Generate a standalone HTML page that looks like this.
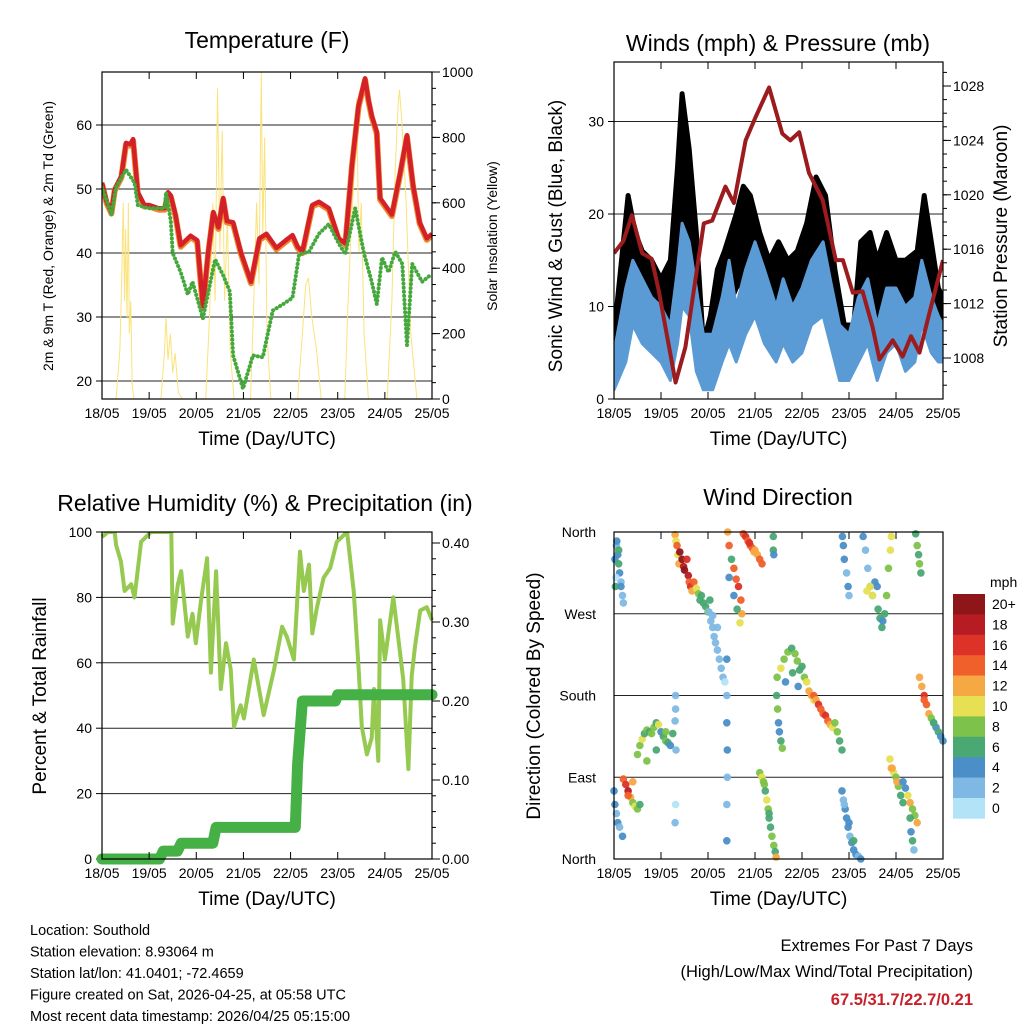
<!DOCTYPE html>
<html><head><meta charset="utf-8"><style>
html,body{margin:0;padding:0;background:#fff}
svg{display:block;font-family:"Liberation Sans",sans-serif}
</style></head><body>
<svg id="c" width="1024" height="1024" viewBox="0 0 1024 1024"></svg>
<script>
// ---------- DATA ----------
const dayTicks=["18/05","19/05","20/05","21/05","22/05","23/05","24/05","25/05"];
// Temperature (F)
const tDay=[0,0.1,0.2,0.27,0.41,0.51,0.6,0.66,0.76,0.9,1.0,1.2,1.33,1.4,1.46,1.56,1.67,1.88,2.02,2.14,2.25,2.36,2.47,2.57,2.65,2.78,2.95,3.16,3.34,3.49,3.7,3.9,4.04,4.15,4.25,4.46,4.6,4.81,5.02,5.16,5.3,5.44,5.58,5.65,5.72,5.83,5.9,6.15,6.33,6.47,6.6,6.74,6.89,7.0];
const tRed=[51,48,46.4,50,52,57.2,57,57.8,49.5,47.5,47.5,47,47,49.5,49,46,41.2,42.7,42,31.7,40,46.4,44,48.6,45,44.8,40,35.5,42.3,43,40.8,42,42.8,41,40.2,47.5,48,47,42.3,41.5,53.7,63,67.3,64,61.5,58.9,48.6,46,52.7,58.4,50.6,44.8,42.3,43];
const tdDay=[0,0.2,0.3,0.51,0.69,0.76,0.97,1.33,1.36,1.46,1.5,1.67,1.82,1.92,2.14,2.4,2.57,2.71,2.78,2.99,3.2,3.41,3.62,3.84,4.04,4.18,4.39,4.6,4.81,5.02,5.16,5.37,5.55,5.72,5.83,5.94,6.08,6.22,6.37,6.47,6.58,6.79,6.96];
const tdVal=[50.3,46,50.3,53,51,47.5,47,47,49.5,45,40,37,33.5,35.5,29.8,39,36.5,34,24,18.8,24,23.7,31,32,33,39.8,40.2,43,44.5,41.5,39.8,47,40.2,35.5,32,39.3,37,40.2,38.3,25.6,38.3,35.5,36.5];
// Solar insolation (W/m2)
const sDay=[0.3,0.38,0.42,0.45,0.48,0.5,0.53,0.56,0.58,0.61,0.64,0.68,0.75, 1.25,1.32,1.36,1.4,1.45,1.5,1.55,1.62,1.7, 2.2,2.28,2.35,2.4,2.45,2.5,2.55,2.6,2.66,2.72,2.8, 3.15,3.22,3.28,3.33,3.38,3.41,3.45,3.5,3.58, 4.15,4.25,4.32,4.38,4.45,4.55,4.65, 5.15,5.22,5.28,5.35,5.4,5.45,5.5,5.56,5.65, 6.05,6.15,6.22,6.28,6.31,6.36,6.45,6.55,6.68];
const sVal=[0,150,380,600,300,520,250,600,200,300,40,0,0, 0,130,250,120,200,80,140,20,0, 0,250,600,300,950,450,820,300,550,150,0, 0,300,600,350,1000,500,800,200,0, 0,200,350,370,250,150,0, 0,300,500,700,920,450,600,200,0, 0,300,700,900,945,850,600,200,0];
// Winds (mph) band envelopes
const wDay=[0,0.25,0.4,0.6,0.8,1.0,1.2,1.35,1.45,1.6,1.75,1.9,2.1,2.3,2.45,2.6,2.8,3.0,3.2,3.45,3.6,3.8,4.0,4.2,4.45,4.6,4.8,5.0,5.2,5.4,5.6,5.8,6.0,6.2,6.4,6.55,6.75,6.9,7.0];
const windHi=[5,12,15,13,11,10,8,14,19,17,12,7,7,11,15,10,14,17,14,10,13,10,12,15,17,13,8,7,11,13,8,12,12,10,11,15,11,9,8];
const windLo=[1,4,8,6,5,4,2,6,10,9,3,1,1,4,6,4,7,9,6,4,6,4,5,8,9,6,2,2,4,6,2,5,6,3,4,8,5,4,4];
const gDay=[0,0.2,0.3,0.45,0.6,0.8,1.0,1.2,1.35,1.45,1.6,1.75,1.9,2.05,2.2,2.35,2.6,2.75,2.9,3.1,3.3,3.5,3.7,3.9,4.1,4.3,4.5,4.7,4.9,5.1,5.25,5.45,5.6,5.8,6.0,6.2,6.45,6.6,6.75,6.9,7.0];
const gustHi=[7,17,22,18,16,15,13,15,25,33,27,18,6,9,14,16,20,23,22,18,15,17,15,16,19,24,22,14,8,8,17,18,15,18,15,15,16,22,17,12,11];
const gustLo=[2,8,13,12,9,9,8,7,15,20,12,8,2,3,6,9,12,13,13,10,9,10,9,10,11,14,13,8,4,4,9,10,8,10,8,8,9,13,9,7,6];
// Pressure (mb)
const pDay=[0,0.2,0.38,0.6,0.8,0.95,1.31,1.52,1.91,2.09,2.37,2.55,2.8,3.01,3.3,3.58,3.75,3.94,4.15,4.44,4.72,4.87,5.08,5.29,5.5,5.65,5.93,6.14,6.32,6.5,6.71,7.0];
const pVal=[1015.7,1016.6,1018.5,1015.7,1015.3,1013,1006.2,1008.8,1017.9,1018.1,1020.6,1019.4,1024,1025.7,1027.9,1024.5,1024,1024.6,1021.6,1019.6,1015.2,1015.2,1012.8,1012.9,1010.3,1007.9,1009.3,1008.1,1009.6,1008.4,1011.3,1015.2];
// Relative humidity (%)
const rhDay=[0,0.13,0.27,0.3,0.4,0.48,0.62,0.69,0.83,1.04,1.47,1.5,1.61,1.68,1.82,1.92,1.99,2.1,2.23,2.31,2.42,2.52,2.63,2.73,2.8,2.94,3.01,3.22,3.43,3.65,3.82,3.92,4.07,4.2,4.28,4.39,4.46,4.56,4.7,4.84,4.98,5.2,5.34,5.44,5.51,5.62,5.72,5.77,5.86,5.9,6.0,6.18,6.28,6.39,6.5,6.57,6.64,6.75,6.89,7.0];
const rhVal=[98.5,100,100,96,91,82,84,80,97,100,100,72,84,88,68,75,66,79,92,57,88,52,66,58,40.5,47,43,61,44,58,71,68,61,94,82,90,69,77,86,89,97,100,82,59,40.5,32,37,52,30,73,61,80,68,55,27.5,56,65,76,77,73];
// Precipitation (in)
const prDay=[0,1.22,1.3,1.6,1.68,2.35,2.42,4.1,4.15,4.25,4.95,5.0,7.0];
const prVal=[0,0,0.01,0.01,0.02,0.02,0.04,0.04,0.12,0.2,0.2,0.208,0.208];
// Wind direction (deg) & speed (mph)
const dirDay=[0.02,0.03,0.05,0.08,0.1,0.12,0.15,0.18,0.2,0.06,0.04,0.1,0.15,
1.3,1.32,1.34,1.36,1.38,1.4,1.45,1.48,1.5,1.55,1.58,1.6,1.63,1.66,1.7,1.75,1.8,1.83,1.86,1.9,1.95,2.0,2.04,
2.02,2.06,2.1,2.13,2.16,2.2,2.24,2.28,2.32,2.36,2.1,2.2,
2.42,2.45,2.5,2.55,2.6,2.65,2.7,2.72,2.45,2.55,2.62,2.68,
2.75,2.8,2.85,2.9,2.95,3.0,3.05,3.1,3.15,2.88,2.98,3.39,3.39,3.4,
4.86,4.88,4.9,4.95,4.98,5.0,5.3,5.35,5.4,5.45,5.5,5.55,5.6,5.38,5.45,5.5,5.62,5.66,5.7,5.72,5.76,5.8,5.84,5.88,5.9,
6.42,6.45,6.48,6.5,6.53,
3.47,3.55,3.62,3.7,3.78,3.85,3.9,3.95,4.0,4.05,4.1,4.15,4.2,4.25,3.65,3.8,3.92,
4.25,4.3,4.35,4.4,4.45,4.5,4.55,4.6,4.65,4.7,4.75,4.8,4.85,
3.46,3.48,3.5,3.52,3.55,3.58,
0.5,0.55,0.6,0.65,0.7,0.75,0.8,0.85,0.9,0.95,1.0,1.05,1.1,1.15,1.2,1.25,1.3,0.7,0.9,1.1,
0.2,0.25,0.3,0.35,0.4,0.45,0.5,0.55,0.3,0.4,
0.0,0.02,0.05,0.08,0.12,0.18,
3.1,3.15,3.2,3.22,3.25,3.28,3.3,3.33,3.36,3.4,3.43,3.45,3.18,3.3,
4.85,4.88,4.92,4.95,4.98,5.02,5.06,5.1,5.15,5.2,5.25,4.9,5.0,5.1,
5.87,5.9,5.95,6.0,6.05,6.1,6.15,5.92,6.02,
6.15,6.2,6.25,6.3,6.35,6.4,6.45,6.3,6.32,6.35,6.38,
6.5,6.55,6.6,6.65,6.7,6.75,6.8,6.85,6.9,6.95,7.0,6.6,6.8,
2.4,2.4,2.4,2.41,2.41,2.4,2.4,
1.31,1.31,1.32,1.31,1.3];
const dirDeg=[330,300,345,335,325,315,305,290,282,350,310,340,300,
357,350,345,335,325,338,330,322,318,330,312,305,300,295,305,298,292,285,290,282,278,272,285,
272,262,255,245,238,230,220,210,200,195,268,255,
360,345,330,320,308,300,285,270,310,290,275,260,
358,355,350,345,342,340,335,330,325,348,338,355,340,335,
355,345,330,315,300,290,355,340,320,300,290,305,300,295,300,290,275,265,255,262,270,290,320,340,355,
358,345,335,325,315,
200,210,220,228,232,226,218,208,212,200,195,185,180,175,195,205,190,
180,175,170,165,160,158,152,148,145,150,140,130,120,
180,165,150,140,130,122,
115,125,132,138,142,140,138,145,150,148,140,135,130,128,125,138,152,108,120,140,
88,82,75,68,62,58,55,60,70,85,
75,60,50,40,35,25,
95,90,82,75,65,55,45,35,25,15,8,2,85,50,
75,65,55,45,35,25,18,10,5,3,0,60,40,20,
110,100,95,90,80,70,62,100,85,
85,78,70,62,55,48,40,45,30,20,10,
200,190,180,170,160,155,150,145,140,135,130,175,150,
220,180,150,120,90,60,20,
180,165,120,60,40];
const dirSpd=[4,6,3,4,6,4,3,2,2,5,1,6,4,
12,10,14,11,13,20,20,18,20,16,18,14,16,12,14,10,8,7,6,6,7,8,6,
3,2,2,3,2,2,3,2,2,1,2,3,
12,14,6,15,14,16,15,13,5,4,7,10,
14,16,15,14,15,13,12,15,14,16,13,7,6,5,
4,5,4,3,4,2,4,3,2,4,3,5,4,10,10,11,6,7,6,5,7,8,9,10,11,
7,8,6,8,7,
8,10,9,8,6,9,8,7,6,8,10,12,12,10,4,6,5,
14,13,16,15,14,16,14,12,11,9,8,7,6,
6,8,5,4,6,8,
8,9,10,7,8,6,9,8,7,10,5,6,8,6,4,7,2,9,7,8,
14,16,18,12,8,10,8,7,15,13,
4,4,3,5,2,4,
8,10,9,7,10,8,6,7,9,8,7,12,9,6,
4,3,4,5,4,3,4,5,4,3,4,2,5,6,
10,12,11,9,8,6,7,12,13,
4,5,10,12,9,8,12,6,4,7,3,
12,13,16,14,12,8,6,5,7,4,5,15,7,
4,3,5,4,3,2,4,
2,2,3,1,2];
const spdLabels=["20+","18","16","14","12","10","8","6","4","2","0"];
const spdColors=["#8e1518","#b71c23","#dc3228","#f0602b","#f6a843","#e6e052","#7dc24a","#4aa872","#4a8fc7","#7fb9e3","#b3e3f7"];
// ---------- DRAW ----------
const NS="http://www.w3.org/2000/svg";
const svg=document.getElementById('c');
function mk(tag,attrs,parent){const e=document.createElementNS(NS,tag);for(const k in attrs)e.setAttribute(k,attrs[k]);(parent||svg).appendChild(e);return e;}
function txt(s,x,y,size,anchor,extra,parent){const e=mk('text',Object.assign({x:x,y:y,'font-size':size,'text-anchor':anchor||'middle',fill:'#000'},extra||{}),parent);e.textContent=s;return e;}
function lineScale(d0,d1,r0,r1){return v=>r0+(v-d0)*(r1-r0)/(d1-d0);}
function pathOf(xs,ys,fx,fy){return xs.map((d,i)=>(i?'L':'M')+fx(d).toFixed(1)+','+fy(ys[i]).toFixed(1)).join('');}

function frame(g,L,T,R,B,fx){
  mk('rect',{x:L,y:T,width:R-L,height:B-T,fill:'none',stroke:'#000','stroke-width':1.2},g);
  dayTicks.forEach((lab,i)=>{const x=fx(i);
    mk('line',{x1:x,x2:x,y1:B,y2:B-7,stroke:'#000'},g);
    mk('line',{x1:x,x2:x,y1:T,y2:T+7,stroke:'#000'},g);
    const t=txt(lab,x,B+19,14,'middle',{},g);
    
    
  });
  const xt=txt('Time (Day/UTC)',(L+R)/2,B+46,19,'middle',{},g);
  
  
}
function leftAxis(g,ticks,fy,L,R,grid){
  ticks.forEach(t=>{const y=fy(t.v);
    if(grid) mk('line',{x1:L,x2:R,y1:y,y2:y,stroke:'#222','stroke-width':1},g);
    mk('line',{x1:L-6,x2:L,y1:y,y2:y,stroke:'#000'},g);
    const e=txt(t.l,L-10,y+5,14,'end',{},g);
    
    
  });
}
function rightAxis(g,ticks,fy,R,minor){
  minor.forEach(v=>{const y=fy(v);mk('line',{x1:R,x2:R+4,y1:y,y2:y,stroke:'#000'},g);});
  ticks.forEach(t=>{const y=fy(t.v);
    mk('line',{x1:R,x2:R+8,y1:y,y2:y,stroke:'#000'},g);
    const e=txt(t.l,R+10,y+5,14,'start',{},g);
    
    
  });
}
function vlabel(g,s,x,y,size,rot,name){const e=txt(s,x,y,size,'middle',{transform:`rotate(${rot} ${x} ${y})`},g);
  
  }

// Panel 1: Temperature
(function(){
  const g=mk('g',{});
  
  
  const L=102,R=432,T=72,B=399;
  const fx=lineScale(0,7,L,R), fy=lineScale(20,60,381,125), fs=lineScale(0,1000,399,72);
  const ti=txt('Temperature (F)',267,48,23,'middle',{},g);
  
  
  const clip=mk('clipPath',{id:'cp1'},g);mk('rect',{x:L,y:T,width:R-L,height:B-T},clip);
  leftAxis(g,[20,30,40,50,60].map(v=>({v,l:String(v)})),fy,L,R,true);
  const minor=[];for(let v=0;v<=1000;v+=50)minor.push(v);
  rightAxis(g,[0,200,400,600,800,1000].map(v=>({v,l:String(v)})),fs,R,minor);
  const d=mk('g',{'clip-path':'url(#cp1)'},g);
  const sp=mk('path',{d:pathOf(sDay,sVal,fx,fs),fill:'none',stroke:'#fbe27a','stroke-width':1},d);
  
  
  const o=mk('path',{d:pathOf(tDay,tRed,fx,v=>fy(v)+1.5),fill:'none',stroke:'#f08a2a','stroke-width':6,'stroke-linejoin':'round'},d);
  
  
  const r=mk('path',{d:pathOf(tDay,tRed,fx,fy),fill:'none',stroke:'#d42028','stroke-width':4.5,'stroke-linejoin':'round'},d);
  
  
  const gp=mk('path',{d:pathOf(tdDay,tdVal,fx,fy),fill:'none',stroke:'#45a83c','stroke-width':4,'stroke-dasharray':'0.1 4','stroke-linecap':'round','stroke-linejoin':'round'},d);
  
  
  frame(g,L,T,R,B,fx);
  vlabel(g,'2m & 9m T (Red, Orange) & 2m Td (Green)',53,236,14,-90,'y-axis-title');
  vlabel(g,'Solar Insolation (Yellow)',497,236,14,-90,'y2-axis-title');
})();

// Panel 2: Winds & Pressure
(function(){
  const g=mk('g',{});
  
  
  const L=614,R=943,T=62,B=399;
  const fx=lineScale(0,7,L,R), fy=lineScale(0,30,399,121.5), fp=lineScale(1008,1028,358,86);
  const ti=txt('Winds (mph) & Pressure (mb)',778,51,23,'middle',{},g);
  
  
  const clip=mk('clipPath',{id:'cp2'},g);mk('rect',{x:L,y:T,width:R-L,height:B-T},clip);
  leftAxis(g,[0,10,20,30].map(v=>({v,l:String(v)})),fy,L,R,true);
  const minor=[];for(let v=1006;v<=1029;v+=1)minor.push(v);
  rightAxis(g,[1008,1012,1016,1020,1024,1028].map(v=>({v,l:String(v)})),fp,R,minor);
  const d=mk('g',{'clip-path':'url(#cp2)'},g);
  const band=(xs,hi,lo)=>pathOf(xs,hi,fx,fy)+xs.slice().reverse().map((x,i)=>'L'+fx(x).toFixed(1)+','+fy(lo[lo.length-1-i]).toFixed(1)).join('')+'Z';
  const gb=mk('path',{d:band(gDay,gustHi,gustLo),fill:'#000',stroke:'#000','stroke-width':5,'stroke-linejoin':'round'},d);
  
  
  const wb=mk('path',{d:band(wDay,windHi,windLo),fill:'#5a9bd5',stroke:'#5a9bd5','stroke-width':3,'stroke-linejoin':'round'},d);
  
  
  const pl=mk('path',{d:pathOf(pDay,pVal,fx,fp),fill:'none',stroke:'#9b1b1e','stroke-width':4,'stroke-linejoin':'round'},d);
  
  
  frame(g,L,T,R,B,fx);
  vlabel(g,'Sonic Wind & Gust (Blue, Black)',562,236,19,-90,'y-axis-title');
  vlabel(g,'Station Pressure (Maroon)',1007,236,19,-90,'y2-axis-title');
})();

// Panel 3: RH & precip
(function(){
  const g=mk('g',{});
  
  
  const L=102,R=432,T=532,B=859;
  const fx=lineScale(0,7,L,R), fy=lineScale(0,100,859,532), fp=lineScale(0,0.4,859,543);
  const ti=txt('Relative Humidity (%) & Precipitation (in)',265,511,23,'middle',{},g);
  
  
  const clip=mk('clipPath',{id:'cp3'},g);mk('rect',{x:L-6,y:T,width:R-L+12,height:B-T+6},clip);
  leftAxis(g,[0,20,40,60,80,100].map(v=>({v,l:String(v)})),fy,L,R,true);
  const minor=[];for(let v=0;v<=0.41;v+=0.02)minor.push(v);
  rightAxis(g,[0,0.1,0.2,0.3,0.4].map(v=>({v,l:v.toFixed(2)})),fp,R,minor);
  const d=mk('g',{'clip-path':'url(#cp3)'},g);
  const rh=mk('path',{d:pathOf(rhDay,rhVal,fx,fy),fill:'none',stroke:'#95c94f','stroke-width':4,'stroke-linejoin':'round'},d);
  
  
  const pr=mk('path',{d:pathOf(prDay,prVal,fx,fp),fill:'none',stroke:'#45b046','stroke-width':11,'stroke-linejoin':'round','stroke-linecap':'round'},d);
  
  
  frame(g,L,T,R,B,fx);
  vlabel(g,'Percent & Total Rainfall',46,696,19,-90,'y-axis-title');
})();

// Panel 4: Wind direction
(function(){
  const g=mk('g',{});
  
  
  const L=614,R=943,T=532,B=859;
  const fx=lineScale(0,7,L,R), fy=lineScale(0,360,859,532);
  const ti=txt('Wind Direction',778,505,23,'middle',{},g);
  
  
  const labs=[{v:0,l:'North'},{v:90,l:'East'},{v:180,l:'South'},{v:270,l:'West'},{v:360,l:'North'}];
  labs.forEach(t=>{const y=fy(t.v);
    mk('line',{x1:L,x2:R,y1:y,y2:y,stroke:'#222'},g);
    const e=txt(t.l,L-18,y+5,14,'end',{},g);
    
    });
  const d=mk('g',{},g);
  const bin=s=>{const i=Math.min(10,Math.floor(s/2));return spdColors[10-i];};
  dirDay.forEach((dd,i)=>{
    const c=mk('circle',{cx:fx(dd).toFixed(1),cy:fy(dirDeg[i]).toFixed(1),r:3.8,fill:bin(dirSpd[i]),'fill-opacity':0.95},d);
    
    
  });
  frame(g,L,T,R,B,fx);
  vlabel(g,'Direction (Colored By Speed)',540,696,19,-90,'y-axis-title');
  // colorbar
  const cb=mk('g',{},g);
  
  
  const h=20.4;
  spdLabels.forEach((lab,i)=>{
    const r=mk('rect',{x:953,y:(594+i*h).toFixed(1),width:32,height:h+0.3,fill:spdColors[i]},cb);
    
    
    const t=txt(lab,992,594+i*h+15,14,'start',{},cb);
    
    
  });
  const m=txt('mph',990,587,14,'start',{},cb);
  
  
})();

// Footer text
const info=["Location: Southold","Station elevation: 8.93064 m","Station lat/lon: 41.0401; -72.4659","Figure created on Sat, 2026-04-25, at 05:58 UTC","Most recent data timestamp: 2026/04/25 05:15:00"];
info.forEach((s,i)=>{const t=txt(s,30,935+i*21.5,14.5,'start');
  
  });
const e1=txt('Extremes For Past 7 Days',973,951,16.5,'end');


const e2=txt('(High/Low/Max Wind/Total Precipitation)',973,977,16.5,'end');


const e3=txt('67.5/31.7/22.7/0.21',973,1005,16.5,'end',{fill:'#c8202a','font-weight':'bold'});


</script>
</body></html>
